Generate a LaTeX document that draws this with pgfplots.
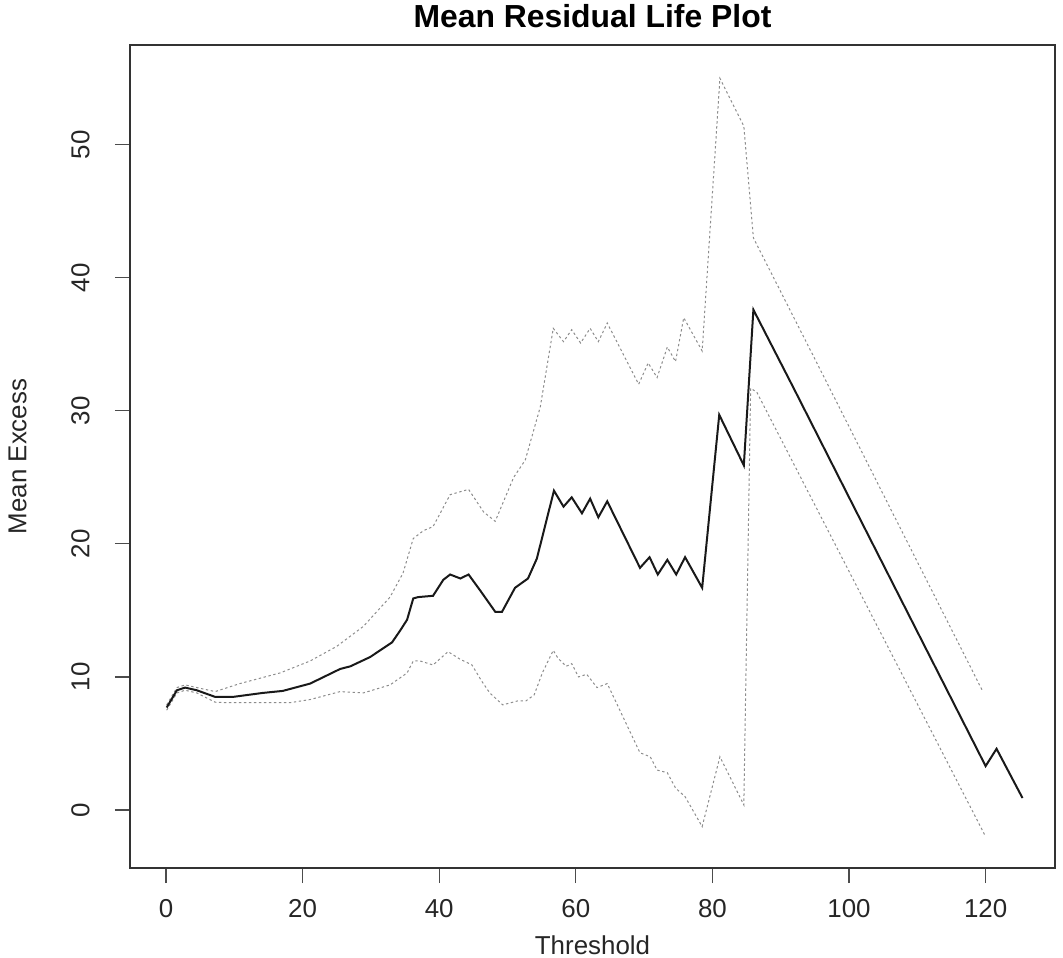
\documentclass[border=0pt]{standalone}
\usepackage{pgfplots}
\pgfplotsset{compat=1.18}
\usepackage{fontspec}
\setmainfont{Liberation Sans}
\begin{document}
\begin{tikzpicture}[x=0.5bp,y=0.5bp]
\path[use as bounding box] (-130,-90) rectangle (933,868);
\begin{axis}[
  at={(0,0)}, anchor=south west,
  width=462.5bp, height=411.5bp, scale only axis,
  xmin=-5.27, xmax=130.16, ymin=-4.36, ymax=57.5,
  xtick={0,20,...,120}, ytick={0,10,...,50},
  xtick pos=lower, ytick pos=left,
  tick align=outside, major tick length=7.5bp,
  every tick/.style={black!70, line width=0.6bp},
  axis line style={black!80, line width=0.9bp},
  /pgf/number format/assume math mode=true,
  tick label style={font=\fontsize{13}{13}\selectfont, text=black!85},
  xticklabel style={anchor=north, inner sep=0pt, yshift=-8bp},
  yticklabel style={rotate=90, anchor=south, inner sep=0pt, yshift=12.5bp},
  xlabel={Threshold}, ylabel={Mean Excess},
  label style={font=\fontsize{13}{13}\selectfont, text=black!85},
  xlabel style={at={(axis description cs:0.5,-0.0936)}, anchor=center, inner sep=0pt},
  ylabel style={at={(axis description cs:-0.1216,0.5)}, anchor=center, inner sep=0pt, rotate=0},
  title={Mean Residual Life Plot},
  title style={at={(axis description cs:0.5,1.0352)}, anchor=center, yshift=-6pt, inner sep=0pt, font=\bfseries\fontsize{16}{16}\selectfont},
  clip=false,
]
% upper confidence bound
\addplot[black!45, line width=0.5bp, dash pattern=on 1.2bp off 1.3bp] coordinates {
(0.1,7.9) (1.6,9.2) (2.8,9.4) (4.5,9.2) (7.2,8.9) (10.8,9.5) (16.7,10.3) (21.1,11.2) (25,12.3) (28.9,13.8) (32.8,16.0) (34.7,17.8) (36.2,20.4) (37.7,21.0) (39.1,21.3) (41.6,23.7) (44.3,24.1) (46.5,22.4) (48.2,21.7) (50.9,25.0) (52.6,26.3) (54.8,30.3) (56.7,36.2) (58.2,35.2) (59.4,36.1) (60.7,35.1) (62.1,36.2) (63.3,35.2) (64.6,36.6) (69.2,32.0) (70.6,33.6) (71.9,32.5) (73.4,34.8) (74.6,33.7) (75.8,37.0) (78.5,34.5) (81.1,55.0) (84.6,51.4) (86.0,43.0) (94.8,34.1) (119.5,9.0)
};
% lower confidence bound
\addplot[black!45, line width=0.5bp, dash pattern=on 1.2bp off 1.3bp] coordinates {
(0.1,7.5) (1.6,8.8) (2.8,9.0) (4.5,8.8) (7.2,8.1) (8.9,8.07) (18.2,8.07) (21.1,8.3) (25.5,8.9) (28.9,8.8) (32.8,9.4) (35.3,10.3) (36.2,11.2) (37.2,11.2) (39.1,10.9) (41.3,11.9) (43.0,11.35) (44.8,10.9) (46.2,9.7) (47.4,8.8) (49.3,7.9) (51.5,8.2) (52.7,8.2) (53.9,8.65) (55.1,10.3) (56.7,12.0) (57.4,11.4) (58.6,10.8) (59.4,11.0) (60.4,10.0) (61.6,10.2) (63.1,9.2) (64.6,9.5) (69.4,4.3) (70.9,4.0) (71.9,3.0) (73.4,2.8) (74.6,1.65) (76.0,1.0) (78.5,-1.25) (81.1,4.0) (84.6,0.38) (85.6,31.7) (86.5,31.4) (120,-2.0)
};
% mean excess
\addplot[black!90, line width=1.0bp] coordinates {
(0.1,7.7) (1.6,9.0) (2.8,9.2) (4.5,9.0) (7.2,8.5) (9.8,8.5) (14.2,8.8) (17.1,8.95) (21.1,9.5) (25.5,10.6) (27,10.8) (29.9,11.5) (33.1,12.6) (34.3,13.5) (35.3,14.3) (36.2,15.9) (36.9,16.0) (39.1,16.1) (40.6,17.3) (41.6,17.7) (43.1,17.4) (44.3,17.7) (46,16.5) (48.2,14.9) (49.2,14.9) (51.1,16.7) (53,17.4) (54.3,18.9) (56.8,24.0) (58.2,22.8) (59.4,23.5) (60.9,22.3) (62.1,23.4) (63.3,22.0) (64.6,23.2) (69.4,18.2) (70.8,19.0) (72,17.7) (73.4,18.8) (74.7,17.7) (76.0,19.0) (78.5,16.7) (81.0,29.7) (84.6,25.9) (86.0,37.6) (92,31.6) (100,23.5) (110,13.4) (120,3.3) (121.6,4.6) (125.4,0.9)
};
\end{axis}
\end{tikzpicture}
\end{document}
